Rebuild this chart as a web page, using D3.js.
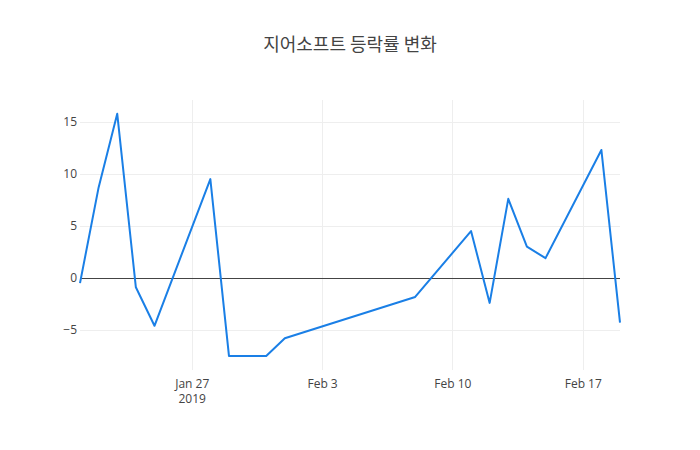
<!DOCTYPE html>
<html>
<head>
<meta charset="utf-8">
<script src="https://cdn.jsdelivr.net/npm/d3@7"></script>
<style>
  body { margin: 0; background: #fff; }
  svg { display: block; }
</style>
</head>
<body>
<div id="chart"></div>
<script>
var dates = ["2019-01-21", "2019-01-22", "2019-01-23", "2019-01-24", "2019-01-25",
  "2019-01-28", "2019-01-29", "2019-01-31", "2019-02-01", "2019-02-08",
  "2019-02-11", "2019-02-12", "2019-02-13", "2019-02-14", "2019-02-15",
  "2019-02-18", "2019-02-19"];
var rates = [-0.5, 8.7, 15.77, -0.9, -4.6,
  9.5, -7.5, -7.5, -5.8, -1.83,
  4.5, -2.4, 7.6, 3.0, 1.9,
  12.3, -4.3];
var yTicks = [-5, 0, 5, 10, 15];
var xTicks = ["2019-01-27", "2019-02-03", "2019-02-10", "2019-02-17"];

var margin = {top: 100, right: 80, bottom: 80, left: 80},
  width = 700 - margin.left - margin.right,
  height = 450 - margin.top - margin.bottom;

var parse = d3.timeParse("%Y-%m-%d");
var data = dates.map(function(d, i) { return {date: parse(d), value: rates[i]}; });

var svg = d3.select("#chart").append("svg")
  .attr("width", 700)
  .attr("height", 450)
  .style("font-family", "'Open Sans', sans-serif");

svg.append("text")
  .attr("x", 350)
  .attr("y", 51)
  .attr("text-anchor", "middle")
  .style("font-family", "'Noto Sans CJK KR', sans-serif")
  .style("font-size", "18px")
  .attr("fill", "#444")
  .text("지어소프트 등락률 변화");

var g = svg.append("g")
  .attr("transform", "translate(" + margin.left + "," + margin.top + ")");

var xScale = d3.scaleTime()
  .domain(d3.extent(data, function(d) { return d.date; }))
  .range([0, width]);

var yScale = d3.scaleLinear()
  .domain([-8.85, 17.1])
  .range([height, 0]);

function crisp(v) { return Math.round(v) + 0.5; }

// grid
g.append("g").selectAll("line")
  .data(xTicks.map(parse))
  .enter().append("line")
    .attr("x1", function(d) { return crisp(xScale(d)); })
    .attr("x2", function(d) { return crisp(xScale(d)); })
    .attr("y1", 0)
    .attr("y2", height)
    .attr("stroke", "#eee");

g.append("g").selectAll("line")
  .data(yTicks.filter(function(d) { return d !== 0; }))
  .enter().append("line")
    .attr("x1", 0)
    .attr("x2", width)
    .attr("y1", function(d) { return crisp(yScale(d)); })
    .attr("y2", function(d) { return crisp(yScale(d)); })
    .attr("stroke", "#eee");

// zero line
g.append("line")
  .attr("x1", 0)
  .attr("x2", width)
  .attr("y1", crisp(yScale(0)))
  .attr("y2", crisp(yScale(0)))
  .attr("stroke", "#444")
  .attr("stroke-width", 1);

// axes (labels only)
var fmtX = d3.timeFormat("%b %-d");
var xAxis = g.append("g")
  .attr("transform", "translate(0," + height + ")")
  .call(d3.axisBottom(xScale).tickValues(xTicks.map(parse)).tickSize(0).tickPadding(9).tickFormat(fmtX));
xAxis.select(".domain").remove();
xAxis.selectAll("text")
  .style("font-size", "12px")
  .style("font-family", "'Open Sans', sans-serif")
  .attr("fill", "#444");
xAxis.selectAll(".tick").filter(function(d, i) { return i === 0; })
  .select("text")
  .append("tspan")
    .attr("x", 0)
    .attr("dy", "1.3em")
    .text("2019");

var yAxis = g.append("g")
  .call(d3.axisLeft(yScale).tickValues(yTicks).tickSize(0).tickPadding(3)
    .tickFormat(function(d) { return d < 0 ? "\u2212" + Math.abs(d) : d; }));
yAxis.select(".domain").remove();
yAxis.selectAll("text")
  .style("font-size", "12px")
  .style("font-family", "'Open Sans', sans-serif")
  .attr("fill", "#444");

var line = d3.line()
  .x(function(d) { return xScale(d.date); })
  .y(function(d) { return yScale(d.value); });

g.append("path")
  .datum(data)
  .attr("d", line)
  .attr("fill", "none")
  .attr("stroke", "#1a7fe6")
  .attr("stroke-width", 2)
  .attr("stroke-linejoin", "round");
</script>
</body>
</html>
